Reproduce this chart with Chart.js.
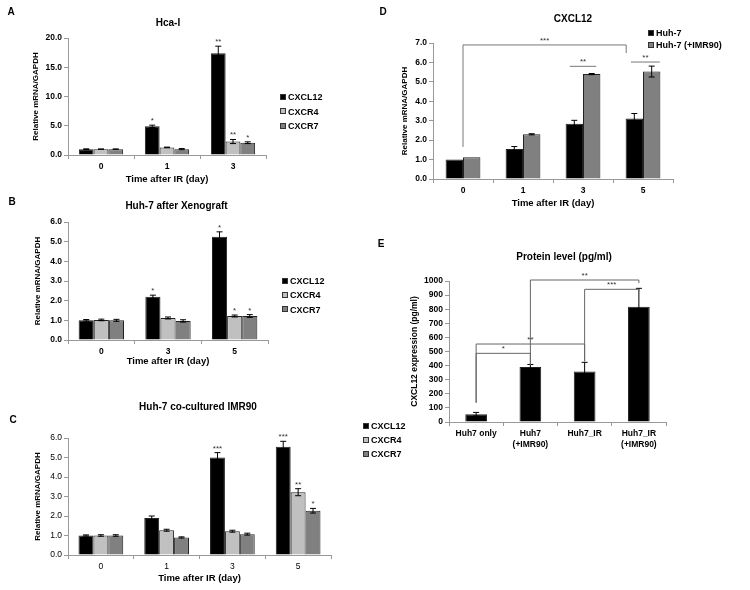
<!DOCTYPE html>
<html>
<head>
<meta charset="utf-8">
<script src="https://cdn.jsdelivr.net/npm/chart.js@4.4.1/dist/chart.umd.min.js"></script>
<style>
body { margin:0; background:#fff; }
#fig { position:relative; width:750px; height:590px; overflow:hidden; background:#fff;
	font-family:"Liberation Sans", Arial, sans-serif; }
canvas { position:absolute; }
.letter { position:absolute; font-weight:bold; font-size:10px; transform:translate(-50%,-50%); }
.lg { position:absolute; font-weight:bold; font-size:9px; height:12px; line-height:12px; white-space:nowrap; color:#000; }
.lg span { display:inline-block; width:6px; height:6px; border:1px solid #333; box-sizing:border-box;
	margin-right:2px; vertical-align:middle; position:relative; top:-1px; }
</style>
</head>
<body>
<div id="fig"></div>
<script>
// ----------------------------------------------------------------------
//	data
// ----------------------------------------------------------------------
const catA = ["0", "1", "3"]
const cxcl12A = [1.0, 4.9, 17.4]
const cxcl12A_err = [0.05, 0.2, 1.2]
const cxcl12A_star = ["", "*", "**"]
const cxcr4A = [1.0, 1.3, 2.3]
const cxcr4A_err = [0.03, 0.05, 0.35]
const cxcr4A_star = ["", "", "**"]
const cxcr7A = [1.0, 1.0, 2.1]
const cxcr7A_err = [0.03, 0.1, 0.15]
const cxcr7A_star = ["", "", "*"]

const catB = ["0", "3", "5"]
const cxcl12B = [1.0, 2.2, 5.25]
const cxcl12B_err = [0.04, 0.08, 0.25]
const cxcl12B_star = ["", "*", "*"]
const cxcr4B = [1.02, 1.12, 1.22]
const cxcr4B_err = [0.04, 0.05, 0.05]
const cxcr4B_star = ["", "", "*"]
const cxcr7B = [1.0, 0.97, 1.22]
const cxcr7B_err = [0.05, 0.06, 0.07]
const cxcr7B_star = ["", "", "*"]

const catC = ["0", "1", "3", "5"]
const cxcl12C = [1.0, 1.9, 5.0, 5.55]
const cxcl12C_err = [0.03, 0.1, 0.25, 0.28]
const cxcl12C_star = ["", "", "***", "***"]
const cxcr4C = [1.0, 1.27, 1.22, 3.22]
const cxcr4C_err = [0.04, 0.05, 0.05, 0.18]
const cxcr4C_star = ["", "", "", "**"]
const cxcr7C = [1.0, 0.9, 1.07, 2.27]
const cxcr7C_err = [0.04, 0.03, 0.05, 0.12]
const cxcr7C_star = ["", "", "", "*"]

const catD = ["0", "1", "3", "5"]
const huh7D = [1.0, 1.54, 2.85, 3.12]
const huh7D_err = [0, 0.13, 0.17, 0.25]
const imr90D = [1.12, 2.3, 5.4, 5.53]
const imr90D_err = [0, 0.03, 0.03, 0.28]
// text, x from, x to (category units), bar y, left leg end, right leg end
const bracketsD = [
	["***", 0, 2.72, 6.9, 1.65, 6.48],
	["**", 1.78, 2.22, 5.8, 5.8, 5.8],
	["**", 2.8, 3.28, 6.02, 6.02, 6.02]
	]

const catE = [["Huh7 only"], ["Huh7", "(+IMR90)"], ["Huh7_IR"], ["Huh7_IR", "(+IMR90)"]]
const proteinE = [55, 390, 358, 818]
const proteinE_err = [13, 18, 65, 130]
const bracketsE = [
	["**", 1, 3, 1007, 405, 985],
	["***", 2, 3, 941, 430, 925],
	["**", 0, 2, 553, 137, 430],
	["*", 0, 1, 487, 137, 405]
	]

const seriesNames = ["CXCL12", "CXCR4", "CXCR7"]
const seriesColors = ["#000000", "#c0c0c0", "#808080"]
const namesD = ["Huh-7", "Huh-7 (+IMR90)"]
const colorsD = ["#000000", "#808080"]

const FONT = '"Liberation Sans", Arial, sans-serif'

// ----------------------------------------------------------------------
const errorPlugin = {
	id: 'errbars',
	afterDatasetsDraw (chart)
	{
		const ctx = chart.ctx
		const ys = chart.scales.y
		chart.data.datasets.forEach ((ds, i) =>
			{
			const meta = chart.getDatasetMeta(i)
			meta.data.forEach ((bar, j) =>
				{
				const v = ds.data[j]
				const err = ds.errors ? ds.errors[j] : 0
				const yTop = ys.getPixelForValue(v + err)
				ctx.save()
				if (0 < err)
					{
					const yBot = ys.getPixelForValue(v - err)
					ctx.strokeStyle = '#000'
					ctx.lineWidth = 1
					ctx.beginPath()
					ctx.moveTo(bar.x, yBot)
					ctx.lineTo(bar.x, yTop)
					ctx.moveTo(bar.x - 3, yTop)
					ctx.lineTo(bar.x + 3, yTop)
					ctx.moveTo(bar.x - 3, yBot)
					ctx.lineTo(bar.x + 3, yBot)
					ctx.stroke()
					}
				const star = ds.stars ? ds.stars[j] : ""
				if (star)
					{
					ctx.fillStyle = '#333'
					ctx.font = '8px ' + FONT
					ctx.textAlign = 'center'
					ctx.textBaseline = 'alphabetic'
					ctx.fillText(star, bar.x, yTop - 2)
					}
				ctx.restore()
				})
			})
	}
}

// ----------------------------------------------------------------------
function bracketPlugin (items, color)
{
	return {
	id: 'brackets',
	afterDatasetsDraw (chart)
	{
		const ctx = chart.ctx
		const xs = chart.scales.x
		const ys = chart.scales.y
		ctx.save()
		items.forEach (b =>
			{
			const x1 = xs.getPixelForValue(b[1])
			const x2 = xs.getPixelForValue(b[2])
			const y = ys.getPixelForValue(b[3])
			ctx.strokeStyle = color
			ctx.lineWidth = 1
			ctx.beginPath()
			ctx.moveTo(x1, ys.getPixelForValue(b[4]))
			ctx.lineTo(x1, y)
			ctx.lineTo(x2, y)
			ctx.lineTo(x2, ys.getPixelForValue(b[5]))
			ctx.stroke()
			ctx.fillStyle = '#333'
			ctx.font = '8px ' + FONT
			ctx.textAlign = 'center'
			ctx.textBaseline = 'alphabetic'
			ctx.fillText(b[0], (x1 + x2) / 2, y - 2)
			})
		ctx.restore()
	}
	}
}

// ----------------------------------------------------------------------
function makeChart (g, labels, datasets, o)
{
	const cv = document.createElement('canvas')
	cv.width = g.w
	cv.height = g.h
	cv.style.left = g.left + 'px'
	cv.style.top = g.top + 'px'
	document.getElementById('fig').appendChild(cv)

	const titleLh = 10 * 1.2
	const ytLh = o.ytSize * 1.2
	const xtLh = 9.5 * 1.2
	const titleTop = g.titleY - g.top - titleLh / 2

	const config = {
		type: 'bar',
		data: { labels: labels, datasets: datasets },
		options: {
			responsive: false,
			animation: false,
			devicePixelRatio: 1,
			layout: { padding: 0 },
			plugins: {
				legend: { display: false },
				tooltip: { enabled: false },
				title: {
					display: true, text: o.title, color: '#000',
					font: { family: FONT, size: 10, weight: 'bold', lineHeight: 1.2 },
					padding: { top: titleTop, bottom: (g.t - g.top) - titleTop - titleLh }
					}
				},
			scales: {
				x: {
					grid: { display: true, drawOnChartArea: false, drawTicks: true, tickLength: 4, color: '#999', offset: true },
					border: { display: true, color: '#999' },
					ticks: { color: '#000', padding: 2, maxRotation: 0, autoSkip: false,
						font: { family: FONT, size: 8.5, weight: o.catBold ? 'bold' : 'normal', lineHeight: 1.3 } },
					title: { display: !!o.xtitle, text: o.xtitle, color: '#000',
						font: { family: FONT, size: 9.5, weight: 'bold', lineHeight: 1.2 },
						padding: { top: 0, bottom: g.top + g.h - (g.xTitleY || 0) - xtLh / 2 } },
					afterFit: function (s) { s.height = g.top + g.h - g.b }
					},
				y: {
					min: 0, max: o.ymax,
					grid: { display: true, drawOnChartArea: false, drawTicks: true, tickLength: 4, color: '#999' },
					border: { display: true, color: '#999' },
					ticks: { stepSize: o.ystep, color: '#000', padding: 2,
						font: { family: FONT, size: 8.5, weight: o.tickBold ? 'bold' : 'normal' },
						callback: v => (0 < o.ydec ? v.toFixed(o.ydec) : String(v)) },
					title: { display: true, text: o.ytitle, color: '#000',
						font: { family: FONT, size: o.ytSize, weight: 'bold', lineHeight: 1.2 },
						padding: { top: g.yTitleX - g.left - ytLh / 2, bottom: 0 } },
					afterFit: function (s) { s.width = g.l - g.left }
					},
				// empty right axis: reserves room for the legend
				yr: {
					type: 'linear', position: 'right', display: true,
					grid: { display: false, drawTicks: false },
					border: { display: false },
					ticks: { display: false },
					afterFit: function (s) { s.width = g.left + g.w - g.r }
					}
				}
			},
		plugins: [errorPlugin, bracketPlugin(o.brackets || [], o.bracketColor || '#777')]
		}
	return new Chart(cv, config)
}

// ----------------------------------------------------------------------
function makeSet (name, color, data, err, stars, cp)
{
	return {
		label: name, data: data, errors: err, stars: stars, yAxisID: 'y',
		backgroundColor: color, borderColor: '#222', borderWidth: 1,
		categoryPercentage: cp, barPercentage: 1.0
		}
}

function makeLegend (x, y, dy, names, colors)
{
	const fig = document.getElementById('fig')
	names.forEach ((nm, k) =>
		{
		const d = document.createElement('div')
		d.className = 'lg'
		d.style.left = x + 'px'
		d.style.top = (y + k * dy - 6) + 'px'
		const sq = document.createElement('span')
		sq.style.background = colors[k]
		d.appendChild(sq)
		d.appendChild(document.createTextNode(nm))
		fig.appendChild(d)
		})
}

function letter (ch, x, y)
{
	const d = document.createElement('div')
	d.className = 'letter'
	d.style.left = x + 'px'
	d.style.top = y + 'px'
	d.textContent = ch
	document.getElementById('fig').appendChild(d)
}

// ----------------------------------------------------------------------
// panel A
makeChart (
	{ left: 0, top: 0, w: 336, h: 190, l: 68, t: 38, r: 266, b: 155, titleY: 23, yTitleX: 36, xTitleY: 179 },
	catA,
	[makeSet(seriesNames[0], seriesColors[0], cxcl12A, cxcl12A_err, cxcl12A_star, 0.67),
	 makeSet(seriesNames[1], seriesColors[1], cxcr4A, cxcr4A_err, cxcr4A_star, 0.67),
	 makeSet(seriesNames[2], seriesColors[2], cxcr7A, cxcr7A_err, cxcr7A_star, 0.67)],
	{ title: "Hca-I", ymax: 20, ystep: 5, ydec: 1, ytitle: "Relative mRNA/GAPDH", ytSize: 8,
	  xtitle: "Time after IR (day)", tickBold: true, catBold: true })
makeLegend (280, 97, 14.5, seriesNames, seriesColors)
letter ("A", 11, 11)

// panel B
makeChart (
	{ left: 0, top: 195, w: 353, h: 175, l: 68, t: 222, r: 268, b: 340, titleY: 206, yTitleX: 38, xTitleY: 361 },
	catB,
	[makeSet(seriesNames[0], seriesColors[0], cxcl12B, cxcl12B_err, cxcl12B_star, 0.68),
	 makeSet(seriesNames[1], seriesColors[1], cxcr4B, cxcr4B_err, cxcr4B_star, 0.68),
	 makeSet(seriesNames[2], seriesColors[2], cxcr7B, cxcr7B_err, cxcr7B_star, 0.68)],
	{ title: "Huh-7 after Xenograft", ymax: 6, ystep: 1, ydec: 1, ytitle: "Relative mRNA/GAPDH", ytSize: 8,
	  xtitle: "Time after IR (day)", tickBold: true, catBold: true })
makeLegend (282, 281, 14.3, seriesNames, seriesColors)
letter ("B", 12, 201)

// panel C
makeChart (
	{ left: 0, top: 390, w: 396, h: 200, l: 68, t: 438, r: 331, b: 555, titleY: 407, yTitleX: 38, xTitleY: 578 },
	catC,
	[makeSet(seriesNames[0], seriesColors[0], cxcl12C, cxcl12C_err, cxcl12C_star, 0.68),
	 makeSet(seriesNames[1], seriesColors[1], cxcr4C, cxcr4C_err, cxcr4C_star, 0.68),
	 makeSet(seriesNames[2], seriesColors[2], cxcr7C, cxcr7C_err, cxcr7C_star, 0.68)],
	{ title: "Huh-7 co-cultured IMR90", ymax: 6, ystep: 1, ydec: 1, ytitle: "Relative mRNA/GAPDH", ytSize: 8,
	  xtitle: "Time after IR (day)", tickBold: false, catBold: false })
makeLegend (363, 426, 14, seriesNames, seriesColors)
letter ("C", 13, 419)

// panel D
makeChart (
	{ left: 396, top: 0, w: 354, h: 215, l: 433, t: 43, r: 673, b: 179, titleY: 19, yTitleX: 405, xTitleY: 203 },
	catD,
	[makeSet(namesD[0], colorsD[0], huh7D, huh7D_err, null, 0.58),
	 makeSet(namesD[1], colorsD[1], imr90D, imr90D_err, null, 0.58)],
	{ title: "CXCL12", ymax: 7, ystep: 1, ydec: 1, ytitle: "Relative mRNA/GAPDH", ytSize: 8,
	  xtitle: "Time after IR (day)", tickBold: true, catBold: true, brackets: bracketsD })
makeLegend (648, 33, 12, namesD, colorsD)
letter ("D", 383, 11)

// panel E
makeChart (
	{ left: 390, top: 235, w: 348, h: 215, l: 449, t: 281, r: 666, b: 422, titleY: 257, yTitleX: 415 },
	catE,
	[makeSet("CXCL12", "#000000", proteinE, proteinE_err, null, 0.4)],
	{ title: "Protein level (pg/ml)", ymax: 1000, ystep: 100, ydec: 0, ytitle: "CXCL12 expression (pg/ml)", ytSize: 8.5,
	  xtitle: "", tickBold: true, catBold: true, brackets: bracketsE, bracketColor: '#666' })
letter ("E", 381, 243)
</script>
</body>
</html>
